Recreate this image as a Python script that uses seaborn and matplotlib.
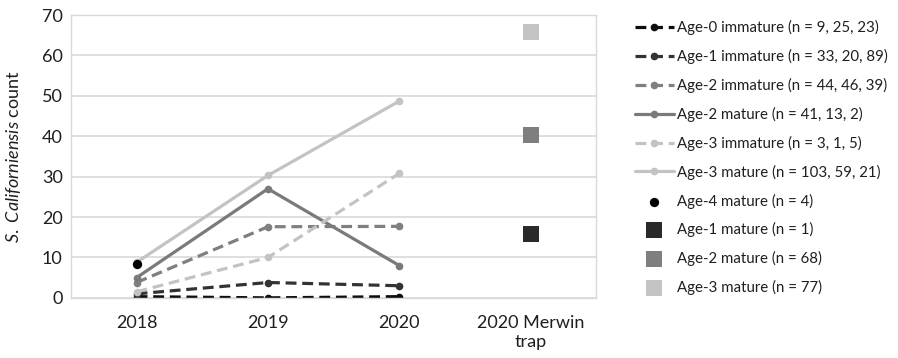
import numpy as np
import pandas as pd
import matplotlib
matplotlib.use("Agg")
import matplotlib.pyplot as plt
import seaborn as sns

# categories / tick labels
years = ["2018", "2019", "2020"]
merwin_label = "2020 Merwin\ntrap"

# yearly series (counts per year)
age0_imm = [0.3, 0.0, 0.3]
age1_imm = [1.0, 3.8, 3.0]
age2_imm = [3.8, 17.6, 17.7]
age2_mat = [5.0, 27.0, 8.0]
age3_imm = [1.5, 10.0, 30.8]
age3_mat = [8.8, 30.3, 48.7]

# single points
age4_mat_2018 = [8.5]
merwin_labels = ["Age-1 mature (n = 1)", "Age-2 mature (n = 68)", "Age-3 mature (n = 77)"]
merwin_vals = [15.8, 40.2, 65.8]

line_labels = [
    "Age-0 immature (n = 9, 25, 23)",
    "Age-1 immature (n = 33, 20, 89)",
    "Age-2 immature (n = 44, 46, 39)",
    "Age-2 mature (n = 41, 13, 2)",
    "Age-3 immature (n = 3, 1, 5)",
    "Age-3 mature (n = 103, 59, 21)",
]
line_vals = [age0_imm, age1_imm, age2_imm, age2_mat, age3_imm, age3_mat]
line_colors = ["#0d0d0d", "#333333", "#7f7f7f", "#7a7a7a", "#c3c3c3", "#c3c3c3"]
line_dashed = [True, True, True, False, True, False]
sq_colors = ["#2a2a2a", "#7f7f7f", "#c3c3c3"]

sns.set_theme(style="white")
plt.rcParams["font.family"] = ["Lato", "DejaVu Sans"]
plt.rcParams["mathtext.fontset"] = "custom"
plt.rcParams["mathtext.it"] = "Lato:italic"
plt.rcParams["mathtext.rm"] = "Lato"

fig = plt.figure(figsize=(8.98, 3.58), dpi=100)
ax = fig.add_axes([0.079, 0.168, 0.585, 0.79])

xpos = np.arange(len(years))
for lab, vals, col, dashed in zip(line_labels, line_vals, line_colors, line_dashed):
    df = pd.DataFrame({"x": xpos, "y": vals})
    sns.lineplot(data=df, x="x", y="y", ax=ax, color=col, linewidth=2.3,
                 linestyle=(0, (3.4, 1.8)) if dashed else "-",
                 marker="o", markersize=5.5, markeredgewidth=0, label=lab)

sns.scatterplot(x=[xpos[0]], y=age4_mat_2018, ax=ax, color="black", s=45,
                linewidth=0, label="Age-4 mature (n = 4)", zorder=5)

mpos = len(years)
for lab, v, col in zip(merwin_labels, merwin_vals, sq_colors):
    sns.scatterplot(x=[mpos], y=[v], ax=ax, color=col, marker="s", s=125,
                    linewidth=0, label=lab, zorder=5)

ax.set_xlim(-0.5, mpos + 0.5)
ax.set_ylim(0, 70)
ax.set_yticks(range(0, 71, 10))
ax.set_xticks(list(xpos) + [mpos])
ax.set_xticklabels(years + [merwin_label], linespacing=1.3)
ax.yaxis.grid(True, color="#d9d9d9", linewidth=1.2)
ax.set_axisbelow(True)
for s in ax.spines.values():
    s.set_color("#d9d9d9")
    s.set_linewidth(1.0)
ax.tick_params(axis="both", labelsize=13, colors="#1f1f1f", length=0)
ax.tick_params(axis="x", pad=12)
ax.tick_params(axis="y", pad=6)
ax.set_xlabel("")
ax.set_ylabel(r"$\it{S.\ Californiensis}$ count", fontsize=13, color="#1f1f1f")
ax.yaxis.set_label_coords(-0.092, 0.5)

handles, labels = ax.get_legend_handles_labels()
ax.legend_.remove()
fig.legend(handles, labels, loc="upper left", bbox_to_anchor=(0.7, 0.96),
           frameon=False, fontsize=10.8, handlelength=2.6, handletextpad=0.2,
           labelspacing=0.92, labelcolor="#1f1f1f", borderaxespad=0)

fig.savefig("out.png", dpi=100)
